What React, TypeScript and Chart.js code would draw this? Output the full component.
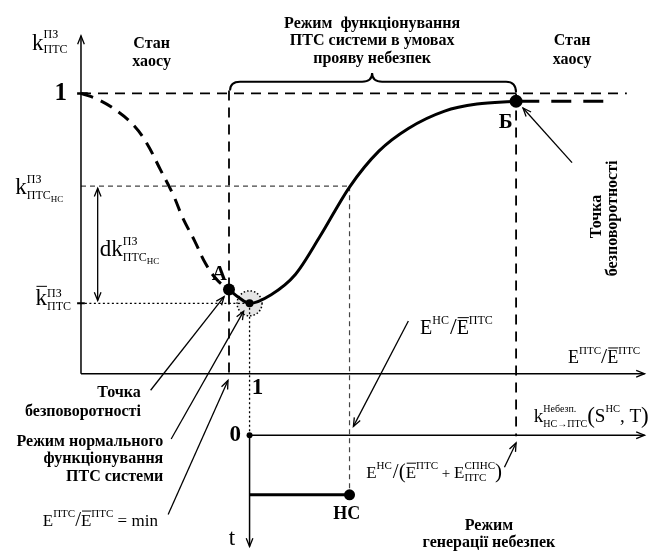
import React, { useEffect, useRef } from "react";
import { Chart, registerables } from "chart.js";
Chart.register(...registerables);

// ---- Data (conceptual units: x = E^ПТС/Ē^ПТС, y = k^ПЗ_ПТС) ----
const mainCurveX = [0.878, 0.936, 1.0, 1.128, 1.273, 1.419, 1.593, 1.767, 1.942, 2.157, 2.349, 2.581];
const mainCurveY = [0.300, 0.272, 0.251, 0.282, 0.355, 0.491, 0.666, 0.794, 0.875, 0.937, 0.962, 0.972];
const chaosLeftX = [0, 0.099, 0.215, 0.314, 0.39, 0.471, 0.547, 0.605, 0.674, 0.738, 0.808, 0.878];
const chaosLeftY = [1.0, 0.979, 0.937, 0.885, 0.822, 0.728, 0.638, 0.554, 0.474, 0.394, 0.334, 0.3];
const chaosRightX = [2.6, 3.122];
const chaosRightY = [0.972, 0.972];

const levelOne = 1;
const levelNS = 0.669;
const levelBar = 0.251;
const xA = 0.878;
const yA = 0.3;
const xMin = 1;
const xNS = 1.593;
const xB = 2.581;
const yB = 0.972;
const lowerZeroY = -0.2195;
const hcY = -0.432;
const axisXEnd = 3.343;
const axisYTop = 1.2056;
const tAxisEnd = -0.6167;
const levelOneEnd = 3.238;

const X_MIN = -0.44186, X_MAX = 3.35465, Y_MIN = -0.62369, Y_MAX = 1.3101;

const FONT = '"Liberation Serif", "Times New Roman", serif';

type Pt = [number, number];
const arrows: { from: Pt; to: Pt; both?: boolean }[] = [
  { from: [0.413, -0.059], to: [0.849, 0.275] },
  { from: [0.535, -0.233], to: [0.965, 0.223] },
  { from: [0.517, -0.502], to: [0.872, -0.024] },
  { from: [1.942, 0.188], to: [1.616, -0.188] },
  { from: [2.512, -0.334], to: [2.581, -0.247] },
  { from: [2.913, 0.753], to: [2.622, 0.948] },
  { from: [0.099, 0.662], to: [0.099, 0.261], both: true },
];
const axisHeads: { from: Pt; to: Pt }[] = [
  { from: [0, 0], to: [0, axisYTop] },
  { from: [0, 0], to: [axisXEnd, 0] },
  { from: [xMin, lowerZeroY], to: [axisXEnd, lowerZeroY] },
  { from: [xMin, lowerZeroY], to: [xMin, tAxisEnd] },
];

type TL = { t: string; x: number; y: number; size: number; bold?: boolean; align?: CanvasTextAlign; rot?: boolean };
const B = 16;
const texts: TL[] = [
  { t: "Режим  функціонування", x: 1.727, y: 1.247, size: B, bold: true },
  { t: "ПТС системи в умовах", x: 1.727, y: 1.188, size: B, bold: true },
  { t: "прояву небезпек", x: 1.727, y: 1.125, size: B, bold: true },
  { t: "Стан", x: 0.419, y: 1.178, size: B, bold: true },
  { t: "хаосу", x: 0.419, y: 1.111, size: B, bold: true },
  { t: "Стан", x: 2.913, y: 1.188, size: B, bold: true },
  { t: "хаосу", x: 2.913, y: 1.118, size: B, bold: true },
  { t: "Точка", x: 0.355, y: -0.07, size: B, bold: true, align: "right" },
  { t: "безповоротності", x: 0.355, y: -0.136, size: B, bold: true, align: "right" },
  { t: "Режим нормального", x: 0.488, y: -0.244, size: B, bold: true, align: "right" },
  { t: "функціонування", x: 0.488, y: -0.303, size: B, bold: true, align: "right" },
  { t: "ПТС системи", x: 0.488, y: -0.369, size: B, bold: true, align: "right" },
  { t: "Режим", x: 2.42, y: -0.544, size: B, bold: true },
  { t: "генерації небезпек", x: 2.42, y: -0.603, size: B, bold: true },
  { t: "Точка", x: 3.06, y: 0.561, size: B, bold: true, rot: true },
  { t: "безповоротності", x: 3.155, y: 0.554, size: B, bold: true, rot: true },
  { t: "1", x: -0.12, y: 1.0, size: 25, bold: true },
  { t: "А", x: 0.82, y: 0.355, size: 21, bold: true },
  { t: "Б", x: 2.52, y: 0.895, size: 21, bold: true },
  { t: "1", x: 1.047, y: -0.052, size: 23, bold: true },
  { t: "0", x: 0.915, y: -0.2195, size: 23, bold: true },
  { t: "t", x: 0.895, y: -0.589, size: 23 },
  { t: "НС", x: 1.576, y: -0.502, size: 18, bold: true },
];

type MI = { t?: string; s?: number; dy?: number; ov?: number; sup?: string; sub?: string; subsub?: string; ss?: number; sss?: number; supDy?: number; subDy?: number; subsubDy?: number; gap?: number };
const mathLabels: { x: number; y: number; items: MI[] }[] = [
  { x: -0.2907, y: 1.1533, items: [{ t: "k", s: 23 }, { sup: "ПЗ", sub: "ПТС", ss: 12, supDy: -12, subDy: 3 }] },
  { x: -0.3895, y: 0.6411, items: [{ t: "k", s: 23 }, { sup: "ПЗ", sub: "ПТС", subsub: "НС", ss: 12, sss: 9, supDy: -11, subDy: 5, subsubDy: 8 }] },
  { x: 0.112, y: 0.4216, items: [{ t: "dk", s: 23 }, { sup: "ПЗ", sub: "ПТС", subsub: "НС", ss: 12, sss: 9, supDy: -11, subDy: 5, subsubDy: 8 }] },
  { x: -0.27, y: 0.2439, items: [{ t: "k", s: 23, ov: 19 }, { sup: "ПЗ", sub: "ПТС", ss: 12, supDy: -8, subDy: 5 }] },
  { x: 2.8895, y: 0.0383, items: [{ t: "E", s: 18 }, { sup: "ПТС", ss: 11, supDy: -9 }, { t: "/", s: 22 }, { t: "E", s: 18, ov: 15 }, { sup: "ПТС", ss: 11, supDy: -9 }] },
  { x: 2.0116, y: 0.1429, items: [{ t: "E", s: 20 }, { sup: "НС", ss: 12, supDy: -10, gap: 1 }, { t: "/", s: 24 }, { t: "E", s: 20, ov: 16 }, { sup: "ПТС", ss: 12, supDy: -10 }] },
  { x: 2.686, y: -0.1707, items: [{ t: "k", s: 19 }, { sup: "Небезп.", sub: "НС→ПТС", ss: 10, supDy: -10, subDy: 5 }, { t: "(", s: 23, dy: 1 }, { t: "S", s: 19 }, { sup: "НС", ss: 10.5, supDy: -10 }, { t: ", T", s: 19 }, { t: ")", s: 23, dy: 1 }] },
  { x: 1.6919, y: -0.3728, items: [{ t: "E", s: 17 }, { sup: "НС", ss: 11, supDy: -9, gap: 1 }, { t: "/", s: 21 }, { t: "(", s: 21 }, { t: "E", s: 17, ov: 15 }, { sup: "ПТС", ss: 11, supDy: -9 }, { t: " + ", s: 15 }, { t: "E", s: 17 }, { sup: "СПНС", sub: "ПТС", ss: 11, supDy: -9, subDy: 3 }, { t: ")", s: 21 }] },
  { x: -0.2267, y: -0.5436, items: [{ t: "E", s: 17 }, { sup: "ПТС", ss: 11, supDy: -9 }, { t: "/", s: 21 }, { t: "E", s: 17, ov: 15 }, { sup: "ПТС", ss: 11, supDy: -9 }, { t: " = min", s: 17 }] },
];

const brace = { x1: xA + 0.006, x2: xB, tip: 1.727, yBar: 1.042, yTip: 1.073, yLeft: 1.01, yRight: 1.003 };

function pts(xs: number[], ys: number[]) {
  return xs.map((x, i) => ({ x, y: ys[i] }));
}
function line(xs: number[], ys: number[], o: any = {}) {
  return { data: pts(xs, ys), showLine: true, pointRadius: 0, borderColor: "#000", borderWidth: 1.5, fill: false, ...o };
}

function head(ctx: CanvasRenderingContext2D, fx: number, fy: number, tx: number, ty: number, len = 9) {
  const a = Math.atan2(ty - fy, tx - fx);
  const w = 0.38;
  ctx.beginPath();
  ctx.moveTo(tx - len * Math.cos(a - w), ty - len * Math.sin(a - w));
  ctx.lineTo(tx, ty);
  ctx.lineTo(tx - len * Math.cos(a + w), ty - len * Math.sin(a + w));
  ctx.stroke();
}

function drawMath(ctx: CanvasRenderingContext2D, x0: number, y0: number, items: MI[]) {
  let cx = x0;
  ctx.textAlign = "left";
  ctx.textBaseline = "alphabetic";
  for (const it of items) {
    if (it.t !== undefined) {
      ctx.font = `${it.s}px ${FONT}`;
      const w = ctx.measureText(it.t).width;
      ctx.fillText(it.t, cx, y0 + (it.dy || 0));
      if (it.ov) {
        ctx.lineWidth = 1;
        ctx.setLineDash([]);
        ctx.beginPath();
        ctx.moveTo(cx + 1, y0 - it.ov);
        ctx.lineTo(cx + w, y0 - it.ov);
        ctx.stroke();
      }
      cx += w + (it.gap || 0);
    } else {
      let w1 = 0, w2 = 0;
      ctx.font = `${it.ss}px ${FONT}`;
      if (it.sup) {
        ctx.fillText(it.sup, cx, y0 + (it.supDy || 0));
        w1 = ctx.measureText(it.sup).width;
      }
      if (it.sub) {
        ctx.font = `${it.ss}px ${FONT}`;
        ctx.fillText(it.sub, cx, y0 + (it.subDy || 0));
        w2 = ctx.measureText(it.sub).width;
        if (it.subsub) {
          ctx.font = `${it.sss}px ${FONT}`;
          ctx.fillText(it.subsub, cx + w2, y0 + (it.subsubDy || 0));
          w2 += ctx.measureText(it.subsub).width;
        }
      }
      cx += Math.max(w1, w2) + (it.gap || 0);
    }
  }
}

const overlay = {
  id: "overlay",
  afterDatasetsDraw(chart: any) {
    const ctx: CanvasRenderingContext2D = chart.ctx;
    const X = (v: number) => chart.scales.x.getPixelForValue(v);
    const Y = (v: number) => chart.scales.y.getPixelForValue(v);
    ctx.save();
    ctx.strokeStyle = "#000";
    ctx.fillStyle = "#000";
    ctx.lineCap = "butt";

    // dotted circle around minimum
    ctx.beginPath();
    ctx.arc(X(xMin), Y(levelBar), 12.5, 0, Math.PI * 2);
    ctx.fillStyle = "rgba(0,0,0,0.10)";
    ctx.fill();
    ctx.setLineDash([1.5, 2]);
    ctx.lineWidth = 1.5;
    ctx.stroke();
    ctx.setLineDash([]);
    ctx.fillStyle = "#000";

    // brace
    ctx.lineWidth = 2;
    ctx.beginPath();
    const r = 10;
    ctx.moveTo(X(brace.x1), Y(brace.yLeft));
    ctx.quadraticCurveTo(X(brace.x1), Y(brace.yBar), X(brace.x1) + r, Y(brace.yBar));
    ctx.lineTo(X(brace.tip) - r, Y(brace.yBar));
    ctx.quadraticCurveTo(X(brace.tip), Y(brace.yBar), X(brace.tip), Y(brace.yTip));
    ctx.quadraticCurveTo(X(brace.tip), Y(brace.yBar), X(brace.tip) + r, Y(brace.yBar));
    ctx.lineTo(X(brace.x2) - r, Y(brace.yBar));
    ctx.quadraticCurveTo(X(brace.x2), Y(brace.yBar), X(brace.x2), Y(brace.yRight));
    ctx.stroke();

    // arrows
    ctx.lineWidth = 1.3;
    for (const a of arrows) {
      const fx = X(a.from[0]), fy = Y(a.from[1]), tx = X(a.to[0]), ty = Y(a.to[1]);
      ctx.beginPath();
      ctx.moveTo(fx, fy);
      ctx.lineTo(tx, ty);
      ctx.stroke();
      head(ctx, fx, fy, tx, ty);
      if (a.both) head(ctx, tx, ty, fx, fy);
    }
    for (const a of axisHeads) {
      head(ctx, X(a.from[0]), Y(a.from[1]), X(a.to[0]), Y(a.to[1]), 9);
    }

    // plain texts
    for (const t of texts) {
      ctx.font = `${t.bold ? "bold " : ""}${t.size}px ${FONT}`;
      ctx.textAlign = t.align || "center";
      ctx.textBaseline = "middle";
      if (t.rot) {
        ctx.save();
        ctx.translate(X(t.x), Y(t.y));
        ctx.rotate(-Math.PI / 2);
        ctx.fillText(t.t, 0, 0);
        ctx.restore();
      } else {
        ctx.fillText(t.t, X(t.x), Y(t.y));
      }
    }
    for (const m of mathLabels) drawMath(ctx, X(m.x), Y(m.y), m.items);
    ctx.restore();
  },
};

export default function App() {
  const ref = useRef<HTMLCanvasElement>(null);
  useEffect(() => {
    if (!ref.current) return;
    const dashed = [10, 7];
    const thin = [5, 4];
    const dotted = [2, 2.5];
    const chart = new Chart(ref.current, {
      type: "scatter",
      data: {
        datasets: [
          {
            data: [
              { x: xA, y: yA },
              { x: xMin, y: levelBar },
              { x: xB, y: yB },
              { x: xNS, y: hcY },
              { x: xMin, y: lowerZeroY },
            ],
            pointRadius: [6, 4, 6.5, 5.5, 3],
            pointBackgroundColor: "#000",
            pointBorderWidth: 0,
            showLine: false,
          } as any,
          line(mainCurveX, mainCurveY, { borderWidth: 3, cubicInterpolationMode: "monotone" }),
          line(chaosLeftX, chaosLeftY, { borderWidth: 3, borderDash: [13, 8], tension: 0.4 }),
          line(chaosRightX, chaosRightY, { borderWidth: 3, borderDash: [20, 12] }),
          // axes
          line([0, 0], [0, axisYTop], { borderWidth: 1.5 }),
          line([0, axisXEnd], [0, 0], { borderWidth: 1.5 }),
          line([xMin, axisXEnd], [lowerZeroY, lowerZeroY], { borderWidth: 1.5 }),
          line([xMin, xMin], [lowerZeroY, tAxisEnd], { borderWidth: 1.5 }),
          line([xMin, xNS], [hcY, hcY], { borderWidth: 3 }),
          // ticks
          line([-0.023, 0.04], [levelOne, levelOne], { borderWidth: 2.5 }),
          line([-0.023, 0.023], [levelBar, levelBar], { borderWidth: 2 }),
          // reference lines
          line([0, levelOneEnd], [levelOne, levelOne], { borderWidth: 1.8, borderDash: dashed }),
          line([0, xNS], [levelNS, levelNS], { borderWidth: 1.2, borderDash: thin, borderColor: "#444" }),
          line([0.023, xMin], [levelBar, levelBar], { borderWidth: 1.3, borderDash: dotted }),
          line([xA, xA], [1.01, -0.014], { borderWidth: 1.8, borderDash: dashed }),
          line([xNS, xNS], [levelNS, hcY], { borderWidth: 1.2, borderDash: thin, borderColor: "#444" }),
          line([xMin, xMin], [levelBar, lowerZeroY], { borderWidth: 1.3, borderDash: dotted }),
          line([xB, xB], [levelOne, -0.223], { borderWidth: 1.8, borderDash: dashed }),
        ],
      },
      options: {
        animation: false,
        responsive: false,
        layout: { padding: 0 },
        plugins: { legend: { display: false }, tooltip: { enabled: false } },
        scales: {
          x: { type: "linear", min: X_MIN, max: X_MAX, display: false },
          y: { type: "linear", min: Y_MIN, max: Y_MAX, display: false },
        },
        events: [],
      },
      plugins: [overlay],
    });
    return () => chart.destroy();
  }, []);
  return (
    <div style={{ position: "fixed", left: 0, top: 0, width: 653, height: 555, background: "#fff" }}>
      <canvas ref={ref} width={653} height={555} style={{ display: "block" }} />
    </div>
  );
}
